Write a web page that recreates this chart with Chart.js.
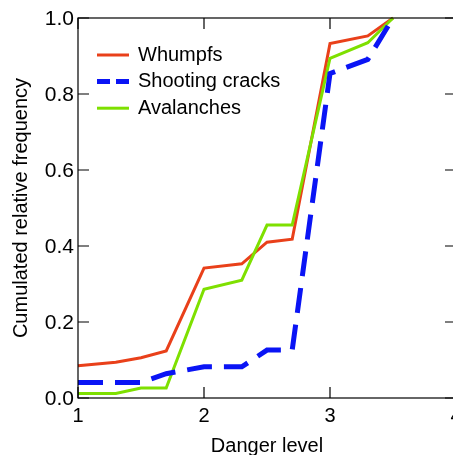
<!DOCTYPE html>
<html>
<head>
<meta charset="utf-8">
<script src="https://cdn.jsdelivr.net/npm/chart.js@4"></script>
<style>
  html, body { margin: 0; padding: 0; overflow: hidden; background: #fff; }
</style>
</head>
<body>
<canvas id="myChart" width="470" height="470"></canvas>
<script>
// danger levels (1, 1+, 2-, 2, ...) on the x axis
var dangerLevels = [1, 1.3, 1.5, 1.7, 2, 2.3, 2.5, 2.7, 3, 3.3, 3.5];

// cumulated relative frequency for each series
var whumpfs    = [0.085, 0.094, 0.106, 0.124, 0.342, 0.353, 0.410, 0.418, 0.933, 0.953, 1.0];
var cracks     = [0.041, 0.041, 0.041, 0.064, 0.082, 0.082, 0.126, 0.126, 0.854, 0.891, 1.0];
var avalanches = [0.012, 0.012, 0.026, 0.026, 0.286, 0.310, 0.455, 0.455, 0.894, 0.935, 1.0];

var seriesNames = ['Whumpfs', 'Shooting cracks', 'Avalanches'];
var xTicks = [1, 2, 3, 4];
var yTicks = [0, 0.2, 0.4, 0.6, 0.8, 1.0];

var FONT = 'Liberation Sans, Arial, Helvetica, sans-serif';
var TICK_LEN = 11;

function toPoints(ys) {
  return dangerLevels.map(function(x, i) { return {x: x, y: ys[i]}; });
}

// box around the plot with inward ticks on all four sides
var framePlugin = {
  id: 'frame',
  afterDraw: function(chart) {
    var ctx = chart.ctx, a = chart.chartArea;
    var xs = chart.scales.x, ys = chart.scales.y;
    ctx.save();
    ctx.strokeStyle = '#000';
    ctx.lineWidth = 1.2;
    ctx.strokeRect(a.left, a.top, a.right - a.left, a.bottom - a.top);
    ctx.beginPath();
    xs.ticks.forEach(function(t) {
      var px = xs.getPixelForValue(t.value);
      ctx.moveTo(px, a.bottom); ctx.lineTo(px, a.bottom - TICK_LEN);
      ctx.moveTo(px, a.top); ctx.lineTo(px, a.top + TICK_LEN);
    });
    ys.ticks.forEach(function(t) {
      var py = ys.getPixelForValue(t.value);
      ctx.moveTo(a.left, py); ctx.lineTo(a.left + TICK_LEN, py);
      ctx.moveTo(a.right, py); ctx.lineTo(a.right - TICK_LEN, py);
    });
    ctx.stroke();
    ctx.restore();
  }
};

// legend drawn inside the plot, top-left
var legendPlugin = {
  id: 'insideLegend',
  afterDraw: function(chart) {
    var ctx = chart.ctx, a = chart.chartArea;
    var x0 = a.left + 19, y0 = a.top + 37, row = 26.6;
    ctx.save();
    chart.data.datasets.forEach(function(ds, i) {
      var y = y0 + i * row;
      ctx.beginPath();
      ctx.strokeStyle = ds.borderColor;
      ctx.lineWidth = ds.legendWidth;
      ctx.setLineDash(ds.legendDash);
      ctx.moveTo(x0, y);
      ctx.lineTo(x0 + 32, y);
      ctx.stroke();
      ctx.setLineDash([]);
      ctx.fillStyle = '#000';
      ctx.font = '20px ' + FONT;
      ctx.textBaseline = 'middle';
      ctx.textAlign = 'left';
      ctx.fillText(ds.label, x0 + 41, y);
    });
    ctx.restore();
  }
};

var ctx = document.getElementById('myChart').getContext('2d');
var myChart = new Chart(ctx, {
  type: 'line',
  data: {
    datasets: [{
      label: seriesNames[0],
      data: toPoints(whumpfs),
      borderColor: '#e9401a',
      borderWidth: 3,
      legendWidth: 3,
      legendDash: [],
      order: 2
    }, {
      label: seriesNames[1],
      data: toPoints(cracks),
      borderColor: '#0a14f5',
      borderWidth: 5,
      borderDash: [25, 12],
      legendWidth: 5,
      legendDash: [13, 6],
      order: 0
    }, {
      label: seriesNames[2],
      data: toPoints(avalanches),
      borderColor: '#7ee000',
      borderWidth: 3,
      legendWidth: 3,
      legendDash: [],
      order: 1
    }]
  },
  options: {
    responsive: false,
    animation: false,
    devicePixelRatio: 1,
    layout: { padding: { top: 18, right: 14, left: 0, bottom: 0 } },
    elements: {
      point: { radius: 0 },
      line: { tension: 0, fill: false, borderCapStyle: 'butt' }
    },
    datasets: { line: { clip: false } },
    plugins: {
      legend: { display: false },
      tooltip: { enabled: false }
    },
    scales: {
      x: {
        type: 'linear',
        min: 1,
        max: 4,
        afterBuildTicks: function(scale) {
          scale.ticks = xTicks.map(function(v) { return {value: v}; });
        },
        afterFit: function(scale) { scale.height = 72; },
        grid: { display: false, drawTicks: false },
        border: { display: false },
        ticks: {
          color: '#000',
          padding: 6,
          maxRotation: 0,
          font: { family: FONT, size: 20 },
          callback: function(v) { return String(v); }
        },
        title: {
          display: true,
          text: 'Danger level',
          color: '#000',
          font: { family: FONT, size: 20 },
          padding: { top: 0, bottom: 12 }
        }
      },
      y: {
        min: 0,
        max: 1,
        afterBuildTicks: function(scale) {
          scale.ticks = yTicks.map(function(v) { return {value: v}; });
        },
        afterFit: function(scale) { scale.width = 78; },
        grid: { display: false, drawTicks: false },
        border: { display: false },
        ticks: {
          color: '#000',
          padding: 4,
          labelOffset: 1.5,
          font: { family: FONT, size: 21 },
          callback: function(v) { return Number(v).toFixed(1); }
        },
        title: {
          display: true,
          text: 'Cumulated relative frequency',
          color: '#000',
          font: { family: FONT, size: 20 },
          padding: { top: 9, bottom: 0 }
        }
      }
    }
  },
  plugins: [framePlugin, legendPlugin]
});
</script>
</body>
</html>
